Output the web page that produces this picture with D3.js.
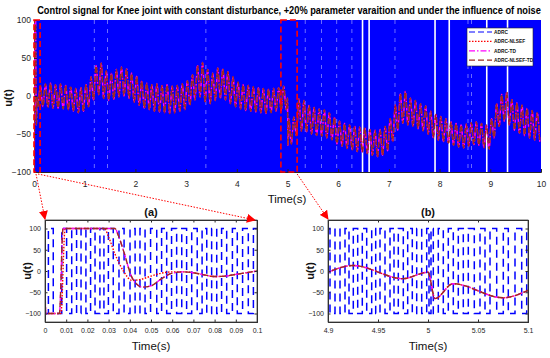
<!DOCTYPE html>
<html>
<head>
<meta charset="utf-8">
<style>
  body { margin: 0; background: white; }
  svg { display: block; font-family: 'Liberation Sans', Arial, sans-serif; }
  .tick text { fill: #262626; }
  .tick line, .domain { stroke: #262626; }
</style>
</head>
<body>
<svg id="chart" width="550" height="358"></svg>
<script src="https://cdn.jsdelivr.net/npm/d3@7/dist/d3.min.js"></script>
<script>
// ---- data ----
const seriesNames = ["ADRC", "ADRC-NLSEF", "ADRC-TD", "ADRC-NLSEF-TD"];
const seriesColors = ["#0000ff", "#ff0000", "#ff00ff", "#9b2d1f"];
const seriesDash = ["6,3", "1.5,1.5", "6,2,1.5,2", "6,3"];

const mainXTicks = [0, 1, 2, 3, 4, 5, 6, 7, 8, 9, 10];
const yTicks = [-100, -50, 0, 50, 100];
const zoomATicks = [0, 0.01, 0.02, 0.03, 0.04, 0.05, 0.06, 0.07, 0.08, 0.09, 0.1];
const zoomBTicks = [4.9, 4.95, 5, 5.05, 5.1];

// start-up transient (0 - 0.1 s)
const tdStartT = [0, 0.0003, 0.0068, 0.0085, 0.033, 0.0345, 0.037, 0.041, 0.044, 0.046, 0.05, 0.055, 0.06, 0.065, 0.07, 0.075, 0.08, 0.085, 0.09, 0.095, 0.1];
const tdStartV = [0, -100, -100, 100, 100, 85, 48, -15, -34, -38, -35, -18, -5, -2, -4, -9, -13, -12, -8, -4, 0];
const nlsefStartT = [0, 0.0003, 0.0075, 0.0095, 0.028, 0.03, 0.033, 0.037, 0.041, 0.045, 0.05, 0.055, 0.06, 0.065, 0.07, 0.075, 0.08, 0.085, 0.09, 0.095, 0.1];
const nlsefStartV = [0, -100, -100, 100, 100, 80, 40, 0, -22, -20, -12, -5, -2, -2, -4, -9, -13, -12, -8, -4, 0];

// oscillation extremes after 0.1 s: peaks at 0.125, 0.225, ... troughs 0.05 s later
const firstPeakT = 0.125, oscPeriod = 0.1;
const peakVals = [
  14, 16, 17, 15, 16, 14, 12, 10, 11,
  15, 25, 40, 43, 33, 30, 35, 38, 36, 30,
  26, 20, 17, 15, 16, 14, 15, 13, 14, 16,
  20, 28, 40, 44, 35, 30, 37, 36, 32, 25,
  18, 15, 14, 12, 11, 10, 9, 10, 11, 13,
  -30, -28, -4, -6, -12, -15, -17, -18, -22, -28,
  -33, -36, -38, -40, -41, -42, -44, -45, -44, -40,
  -30, -12, 3, 6, -3, -6, -10, -13, -20, -24,
  -27, -30, -34, -36, -38, -37, -35, -34, -36, -38,
  -30, -10, 2, 5, -5, -9, -12, -16, -19, -22
];
const troughVals = [
  -14, -15, -16, -16, -17, -18, -20, -22, -20,
  -14, -5, 2, -3, -6, -4, -1, 0, -3, -8,
  -12, -16, -18, -20, -21, -22, -23, -22, -20, -18,
  -12, -5, -1, -8, -10, -6, -3, -5, -10, -14,
  -17, -19, -20, -21, -22, -23, -22, -20, -19, -18,
  -63, -52, -46, -47, -50, -52, -53, -55, -58, -63,
  -66, -69, -71, -73, -74, -76, -78, -80, -78, -72,
  -60, -45, -36, -38, -40, -43, -46, -50, -55, -58,
  -60, -62, -65, -67, -68, -66, -64, -65, -68, -70,
  -55, -40, -33, -38, -45, -49, -52, -55, -58, -60
];
// disturbance kick at t = 5 s
const kickT = [5.0, 5.007];
const kickV = [-3, -65];

// ADRC chattering: full band +-100, with a few short breaks (white lines)
const adrcSpan = [0, 10];
const adrcLimits = [-100, 100];
const adrcBreaksSolid = [6.48, 6.61, 7.91, 8.19, 8.93, 9.34];
const adrcBreaksDashed = [1.19, 1.45, 3.39, 5.35, 5.67, 5.97, 6.27, 7.12, 8.56, 8.63];
// ADRC switching instants in the zoomed windows
const adrcSwitchA = [0.0016, 0.0039, 0.0079, 0.0102, 0.0126, 0.0149, 0.0170, 0.0193, 0.0215, 0.0236, 0.0259, 0.0278, 0.0299, 0.0322, 0.0349, 0.0373, 0.0401, 0.0425, 0.0448, 0.0472, 0.0498, 0.0527, 0.0550, 0.0574, 0.0597, 0.0621, 0.0645, 0.0668, 0.0692, 0.0718, 0.0741, 0.0763, 0.0786, 0.0810, 0.0833, 0.0857, 0.0884, 0.0907, 0.0932, 0.0959, 0.0983];
const adrcSwitchB = [4.902, 4.907, 4.912, 4.917, 4.921, 4.9253, 4.9297, 4.9343, 4.9387, 4.9437, 4.9477, 4.952, 4.957, 4.962, 4.966, 4.9703, 4.9753, 4.9797, 4.9843, 4.9887, 4.9937, 4.9987, 5.001, 5.003, 5.0053, 5.0103, 5.0153, 5.0203, 5.0253, 5.0303, 5.0353, 5.0403, 5.0463, 5.052, 5.057, 5.062, 5.0687, 5.0753, 5.0803, 5.087, 5.0937, 5.0987];

// zoom windows marked on the main plot
const markA = [0, 0.12];
const markB = [4.87, 5.19];

// ---- build series ----
let osc = [];
peakVals.forEach((v, i) => osc.push({ t: firstPeakT + i * oscPeriod, v: v }));
troughVals.forEach((v, i) => osc.push({ t: firstPeakT + oscPeriod / 2 + i * oscPeriod, v: v }));
kickT.forEach((t, i) => osc.push({ t: t, v: kickV[i] }));

function series(startT, startV) {
  let pts = startT.map((t, i) => ({ t: t, v: startV[i] })).concat(osc);
  return pts.sort((a, b) => a.t - b.t);
}
const tdSeries = series(tdStartT, tdStartV);
const nlsefSeries = series(nlsefStartT, nlsefStartV);

function adrcSteps(t0, t1, switches, v0) {
  let pts = [{ t: t0, v: v0 }];
  let v = v0;
  switches.forEach(s => { v = -v; pts.push({ t: s, v: v }) });
  pts.push({ t: t1, v: v });
  return pts;
}

// ---- drawing ----
const svg = d3.select("#chart");
const defs = svg.append("defs");

// main panel
let mx = d3.scaleLinear().domain([0, 10]).range([34, 541]);
let my = d3.scaleLinear().domain([-100, 100]).range([172, 20]);

// title: squeeze horizontally like the narrow original font
let title = svg.append("text")
  .attr("x", 0).attr("y", 0)
  .attr("text-anchor", "middle")
  .style("font", "bold 11px 'Liberation Sans', Arial")
  .text("Control signal for Knee joint with constant disturbance, +20% parameter varaition and under the influence of noise");
let tw = title.node().getComputedTextLength();
title.attr("transform", `translate(289,14) scale(${504 / tw},1)`);

let band = d3.area().x(d => mx(d)).y0(my(adrcLimits[0])).y1(my(adrcLimits[1]));
svg.append("path").datum(adrcSpan).attr("d", band).attr("fill", seriesColors[0]);

svg.append("g").selectAll("line").data(adrcBreaksSolid).join("line")
  .attr("x1", d => mx(d)).attr("x2", d => mx(d))
  .attr("y1", my(100)).attr("y2", my(-100))
  .attr("stroke", "white").attr("stroke-width", 1.6);
svg.append("g").selectAll("line").data(adrcBreaksDashed).join("line")
  .attr("x1", d => mx(d)).attr("x2", d => mx(d))
  .attr("y1", my(100)).attr("y2", my(-100))
  .attr("stroke", "#b8b8ff").attr("stroke-width", 0.8)
  .attr("stroke-dasharray", "4,5").attr("opacity", 0.75);

defs.append("clipPath").attr("id", "clipMain").append("rect")
  .attr("x", 34).attr("y", 20).attr("width", 507).attr("height", 152);

function drawSignals(g, x, y, width) {
  let line = d3.line().x(d => x(d.t)).y(d => y(d.v)).curve(d3.curveMonotoneX);
  g.append("path").datum(nlsefSeries).attr("d", line)
    .attr("fill", "none").attr("stroke", seriesColors[1]).attr("stroke-width", width)
    .attr("stroke-dasharray", seriesDash[1]);
  g.append("path").datum(tdSeries).attr("d", line)
    .attr("fill", "none").attr("stroke", seriesColors[2]).attr("stroke-width", width)
    .attr("stroke-dasharray", seriesDash[2]);
  g.append("path").datum(tdSeries).attr("d", line)
    .attr("fill", "none").attr("stroke", seriesColors[3]).attr("stroke-width", width)
    .attr("stroke-dasharray", seriesDash[3]);
}
drawSignals(svg.append("g").attr("clip-path", "url(#clipMain)"), mx, my, 1.4);

svg.append("g")
  .attr("transform", "translate(0,172)")
  .call(d3.axisBottom(mx).tickValues(mainXTicks).tickSize(-3).tickPadding(9).tickFormat(d3.format("d")))
  .call(g => g.selectAll("text").style("font-size", "8.5px"));
svg.append("g")
  .attr("transform", "translate(34,0)")
  .call(d3.axisLeft(my).tickValues(yTicks).tickSize(-3).tickPadding(3))
  .call(g => g.selectAll("text").style("font-size", "8.5px"))
  .call(g => g.select(".domain").remove());

svg.append("text").attr("x", 287).attr("y", 203).attr("text-anchor", "middle")
  .style("font-size", "11.5px").attr("fill", "#111").text("Time(s)");
svg.append("text").attr("transform", "translate(12,98) rotate(-90)")
  .attr("text-anchor", "middle").style("font", "bold 11px 'Liberation Sans', Arial")
  .attr("fill", "#111").text("u(t)");

// legend
let leg = svg.append("g");
leg.append("rect").attr("x", 467).attr("y", 28).attr("width", 66).attr("height", 38)
  .attr("fill", "white").attr("stroke", "#222").attr("stroke-width", 0.6);
seriesNames.forEach((name, i) => {
  let ly = 32 + i * 9.4;
  leg.append("line").attr("x1", 469).attr("x2", 492).attr("y1", ly).attr("y2", ly)
    .attr("stroke", seriesColors[i]).attr("stroke-width", 1.2)
    .attr("stroke-dasharray", seriesDash[i]);
  leg.append("text").attr("x", 494).attr("y", ly + 2)
    .style("font", "bold 4.8px 'Liberation Sans', Arial").attr("fill", "#111").text(name);
});

// zoom markers
function marker(span) {
  svg.append("rect")
    .attr("x", mx(span[0])).attr("y", my(100))
    .attr("width", mx(span[1]) - mx(span[0])).attr("height", my(-100) - my(100))
    .attr("fill", "none").attr("stroke", "#ff0000").attr("stroke-width", 1.6)
    .attr("stroke-dasharray", "6,3");
}
marker(markA);
marker(markB);

// ---- zoom panels ----
function panel(id, left, right, domain, ticks, fmt, switches, adrcStart, label) {
  let x = d3.scaleLinear().domain(domain).range([left, right]);
  let y = d3.scaleLinear().domain([-120, 120]).range([322, 220]);
  let w = right - left;

  defs.append("clipPath").attr("id", id).append("rect")
    .attr("x", left).attr("y", 220).attr("width", w).attr("height", 102);

  svg.append("rect").attr("x", left).attr("y", 220).attr("width", w).attr("height", 102)
    .attr("fill", "white");

  let g = svg.append("g").attr("clip-path", `url(#${id})`);
  let step = d3.line().x(d => x(d.t)).y(d => y(d.v)).curve(d3.curveStepAfter);
  g.append("path").datum(adrcSteps(domain[0], domain[1], switches, adrcStart))
    .attr("d", step).attr("fill", "none")
    .attr("stroke", seriesColors[0]).attr("stroke-width", 1.5)
    .attr("stroke-dasharray", "8,5");
  drawSignals(g, x, y, 1.4);

  svg.append("g").attr("transform", "translate(0,322)")
    .call(d3.axisBottom(x).tickValues(ticks).tickSize(-2.5).tickPadding(6).tickFormat(fmt))
    .call(a => a.selectAll("text").style("font-size", "7px"));
  svg.append("g").attr("transform", "translate(0,220)")
    .call(d3.axisTop(x).tickValues(ticks).tickSize(-2.5).tickFormat(""));
  svg.append("g").attr("transform", `translate(${left},0)`)
    .call(d3.axisLeft(y).tickValues(yTicks).tickSize(-2.5).tickPadding(4))
    .call(a => a.selectAll("text").style("font-size", "7px"));
  svg.append("g").attr("transform", `translate(${right},0)`)
    .call(d3.axisRight(y).tickValues(yTicks).tickSize(-2.5).tickFormat(""));
  svg.append("rect").attr("x", left).attr("y", 220).attr("width", w).attr("height", 102)
    .attr("fill", "none").attr("stroke", "#444").attr("stroke-width", 0.8);

  let cx = (left + right) / 2;
  svg.append("text").attr("x", cx).attr("y", 216).attr("text-anchor", "middle")
    .style("font", "bold 11px 'Liberation Sans', Arial").attr("fill", "#111").text(label);
  svg.append("text").attr("x", cx).attr("y", 350).attr("text-anchor", "middle")
    .style("font-size", "11.5px").attr("fill", "#111").text("Time(s)");
  svg.append("text").attr("transform", `translate(${left - 14},271) rotate(-90)`)
    .attr("text-anchor", "middle").style("font", "bold 11px 'Liberation Sans', Arial")
    .attr("fill", "#111").text("u(t)");
  return x;
}
let ax = panel("clipA", 45, 257, [0, 0.1], zoomATicks, d3.format("~g"), adrcSwitchA, -100, "(a)");
let bx = panel("clipB", 328, 528, [4.9, 5.1], zoomBTicks, d3.format("~g"), adrcSwitchB, 100, "(b)");

// dotted arrows from the marked windows to the panels
defs.append("marker").attr("id", "arrow").attr("viewBox", "0 0 10 10")
  .attr("refX", 9).attr("refY", 5).attr("markerWidth", 9).attr("markerHeight", 9)
  .attr("markerUnits", "userSpaceOnUse").attr("orient", "auto")
  .append("path").attr("d", "M0,0L10,5L0,10Z").attr("fill", "#ff0000");

function arrow(x1, y1, x2, y2) {
  svg.append("line").attr("x1", x1).attr("y1", y1).attr("x2", x2).attr("y2", y2)
    .attr("stroke", "#ff0000").attr("stroke-width", 1)
    .attr("stroke-dasharray", "1.5,1.5").attr("marker-end", "url(#arrow)");
}
arrow(mx(markA[0]) + 2, my(-100) + 2, ax(0), 219);
arrow(mx(markA[0]) + 4, my(-100) + 2, ax(0.1) - 2, 220);
arrow(mx(markB[1]), my(-100) + 2, bx(4.9), 219);
</script>
</body>
</html>
